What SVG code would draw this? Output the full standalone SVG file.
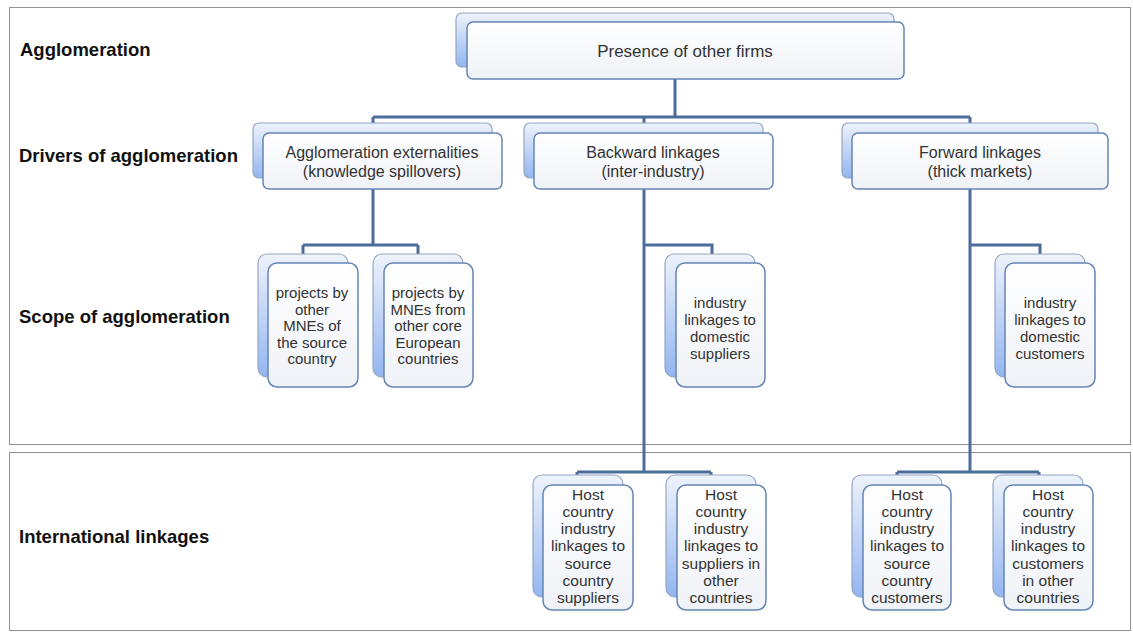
<svg xmlns="http://www.w3.org/2000/svg" width="1133" height="632" viewBox="0 0 1133 632">
<defs>
<linearGradient id="gb" x1="0" y1="0" x2="0" y2="1">
<stop offset="0" stop-color="#eef3fb"/>
<stop offset="1" stop-color="#93b5f0"/>
</linearGradient>
<linearGradient id="gf" x1="0" y1="0" x2="0" y2="1">
<stop offset="0" stop-color="#ffffff"/>
<stop offset="1" stop-color="#eff2f7"/>
</linearGradient>
<style>
.back{fill:url(#gb);stroke:#94a6c2;stroke-width:1.2}
.front{fill:url(#gf);stroke:#6585b5;stroke-width:1.5}
.conn{fill:none;stroke:#4a6d9c;stroke-width:3}
.frame{fill:none;stroke:#222;stroke-width:1;stroke-dasharray:1 1}
.lbl{font-family:"Liberation Sans",Arial,sans-serif;font-weight:bold;font-size:18.5px;fill:#111}
.t{font-family:"Liberation Sans",Arial,sans-serif;fill:#333;text-anchor:middle}
.t1{font-size:17px}
.t2{font-size:16px}
.t3{font-size:15px}
.t4{font-size:15.5px}
</style>
</defs>
<rect width="1133" height="632" fill="#ffffff"/>
<g id="frames">
<rect class="frame" x="9.5" y="7.5" width="1121" height="437"/>
<rect class="frame" x="9.5" y="452.5" width="1121" height="178"/>
</g>
<g id="labels">
<text class="lbl" x="20" y="56">Agglomeration</text>
<text class="lbl" x="19" y="162">Drivers of agglomeration</text>
<text class="lbl" x="19" y="323">Scope of agglomeration</text>
<text class="lbl" x="19" y="543">International linkages</text>
</g>
<g id="connectors">
<path class="conn" d="M675 79V117M373 117H970M373 117V124M644 117V124M970 117V124"/>
<path class="conn" d="M373 189V245M303 245H418M303 245V255M418 245V255"/>
<path class="conn" d="M644 189V472M644 245H712V255M577 472H711M577 472V476M711 472V476"/>
<path class="conn" d="M970 189V472M970 245H1040V255M897 472H1039M897 472V476M1039 472V476"/>
</g>
<g id="n-presence">
<rect class="back" x="456" y="13" width="438" height="54" rx="6"/>
<rect class="front" x="467" y="22" width="437" height="57" rx="6"/>
<text class="t t1" x="685" y="57">Presence of other firms</text>
</g>
<g id="n-externalities">
<rect class="back" x="253" y="123" width="239" height="55" rx="6"/>
<rect class="front" x="263" y="133" width="239" height="56" rx="6"/>
<text class="t t2" x="382" y="158">Agglomeration externalities</text>
<text class="t t2" x="382" y="177">(knowledge spillovers)</text>
</g>
<g id="n-backward">
<rect class="back" x="524" y="123" width="239" height="55" rx="6"/>
<rect class="front" x="534" y="133" width="239" height="56" rx="6"/>
<text class="t t2" x="653" y="158">Backward linkages</text>
<text class="t t2" x="653" y="177">(inter-industry)</text>
</g>
<g id="n-forward">
<rect class="back" x="842" y="123" width="256" height="55" rx="6"/>
<rect class="front" x="852" y="133" width="256" height="56" rx="6"/>
<text class="t t2" x="980" y="158">Forward linkages</text>
<text class="t t2" x="980" y="177">(thick markets)</text>
</g>
<g id="n-source-mnes">
<rect class="back" x="258" y="254" width="90" height="123" rx="9"/>
<rect class="front" x="268" y="263" width="90" height="124" rx="9"/>
<text class="t t3" x="312" y="298">projects by</text>
<text class="t t3" x="312" y="314.5">other</text>
<text class="t t3" x="312" y="331">MNEs of</text>
<text class="t t3" x="312" y="347.5">the source</text>
<text class="t t3" x="312" y="364">country</text>
</g>
<g id="n-european-mnes">
<rect class="back" x="373" y="254" width="90" height="123" rx="9"/>
<rect class="front" x="384" y="263" width="89" height="124" rx="9"/>
<text class="t t3" x="428" y="298">projects by</text>
<text class="t t3" x="428" y="314.5">MNEs from</text>
<text class="t t3" x="428" y="331">other core</text>
<text class="t t3" x="428" y="347.5">European</text>
<text class="t t3" x="428" y="364">countries</text>
</g>
<g id="n-domestic-suppliers">
<rect class="back" x="665" y="254" width="90" height="123" rx="9"/>
<rect class="front" x="676" y="263" width="89" height="124" rx="9"/>
<text class="t t3" x="720" y="308">industry</text>
<text class="t t3" x="720" y="325">linkages to</text>
<text class="t t3" x="720" y="342">domestic</text>
<text class="t t3" x="720" y="359">suppliers</text>
</g>
<g id="n-domestic-customers">
<rect class="back" x="995" y="254" width="90" height="123" rx="9"/>
<rect class="front" x="1005" y="263" width="90" height="124" rx="9"/>
<text class="t t3" x="1050" y="308">industry</text>
<text class="t t3" x="1050" y="325">linkages to</text>
<text class="t t3" x="1050" y="342">domestic</text>
<text class="t t3" x="1050" y="359">customers</text>
</g>
<g id="n-source-suppliers">
<rect class="back" x="533" y="475" width="90" height="122" rx="9"/>
<rect class="front" x="543" y="485" width="90" height="125" rx="9"/>
<text class="t t4" x="588" y="500">Host</text>
<text class="t t4" x="588" y="517">country</text>
<text class="t t4" x="588" y="534">industry</text>
<text class="t t4" x="588" y="551">linkages to</text>
<text class="t t4" x="588" y="569">source</text>
<text class="t t4" x="588" y="586">country</text>
<text class="t t4" x="588" y="603">suppliers</text>
</g>
<g id="n-other-suppliers">
<rect class="back" x="666" y="475" width="90" height="122" rx="9"/>
<rect class="front" x="677" y="485" width="89" height="125" rx="9"/>
<text class="t t4" x="721" y="500">Host</text>
<text class="t t4" x="721" y="517">country</text>
<text class="t t4" x="721" y="534">industry</text>
<text class="t t4" x="721" y="551">linkages to</text>
<text class="t t4" x="721" y="569">suppliers in</text>
<text class="t t4" x="721" y="586">other</text>
<text class="t t4" x="721" y="603">countries</text>
</g>
<g id="n-source-customers">
<rect class="back" x="852" y="475" width="90" height="122" rx="9"/>
<rect class="front" x="863" y="485" width="88" height="125" rx="9"/>
<text class="t t4" x="907" y="500">Host</text>
<text class="t t4" x="907" y="517">country</text>
<text class="t t4" x="907" y="534">industry</text>
<text class="t t4" x="907" y="551">linkages to</text>
<text class="t t4" x="907" y="569">source</text>
<text class="t t4" x="907" y="586">country</text>
<text class="t t4" x="907" y="603">customers</text>
</g>
<g id="n-other-customers">
<rect class="back" x="993" y="475" width="90" height="122" rx="9"/>
<rect class="front" x="1004" y="485" width="89" height="125" rx="9"/>
<text class="t t4" x="1048" y="500">Host</text>
<text class="t t4" x="1048" y="517">country</text>
<text class="t t4" x="1048" y="534">industry</text>
<text class="t t4" x="1048" y="551">linkages to</text>
<text class="t t4" x="1048" y="569">customers</text>
<text class="t t4" x="1048" y="586">in other</text>
<text class="t t4" x="1048" y="603">countries</text>
</g>
</svg>
